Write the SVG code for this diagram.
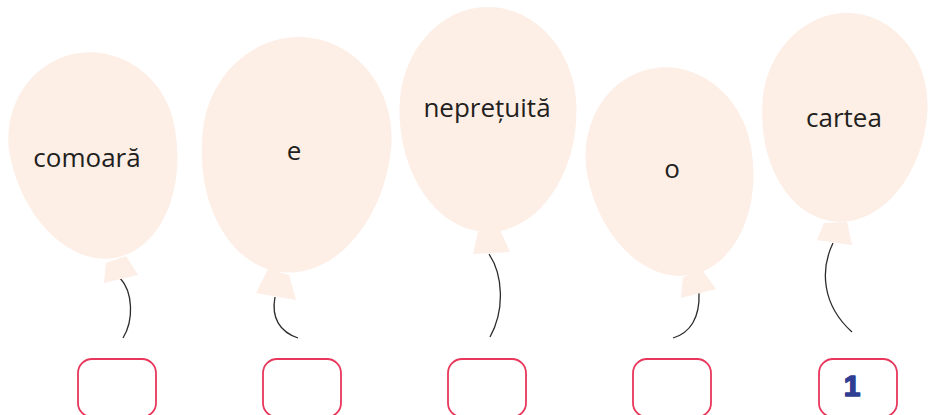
<svg xmlns="http://www.w3.org/2000/svg" width="928" height="415" viewBox="0 0 928 415">
<style>
.b{fill:#fdeee6}
.s{fill:none;stroke:#2b2b2b;stroke-width:1.3}
.t{font-family:"Open Sans","Noto Sans",sans-serif;font-size:26px;fill:#231f20;text-anchor:middle}
.box{fill:#fff;stroke:#e8375b;stroke-width:1.8}
.n{font-family:"Liberation Sans",Arial,sans-serif;font-weight:bold;font-size:30px;fill:#2f3d92;stroke:#2f3d92;stroke-width:1.5;stroke-linejoin:round;text-anchor:middle}
</style>
<rect width="928" height="415" fill="#fff"/>
<g id="connectors">
<path class="s" d="M120,278 C133,292 134,320 123,338"/>
<path class="s" d="M275,297 C271,318 280,332 298,338"/>
<path class="s" d="M489,254 C503,275 505,310 490,337"/>
<path class="s" d="M699,293 C700,318 690,333 673,338"/>
<path class="s" d="M833,243 C820,270 822,305 852,332"/>
</g>
<g id="balloon1">
<path class="b" transform="translate(92,140) rotate(-12)" d="M0,-88 C46,-88 83.5,-48 83.5,0 C83.5,66 46,120 0,120 C-46,120 -83.5,66 -83.5,0 C-83.5,-48 -46,-88 0,-88 Z"/>
<polygon class="b" points="106,263 126,256 138,275 104,283"/>
<text class="t" x="87" y="167">comoară</text>
</g>
<g id="balloon2">
<path class="b" transform="translate(297,140) rotate(7)" d="M0,-103 C52,-103 94.5,-57 94.5,0 C94.5,74 52,133 0,133 C-52,133 -94.5,74 -94.5,0 C-94.5,-57 -52,-103 0,-103 Z"/>
<polygon class="b" points="268,269 289,275 296,300 256,293"/>
<text class="t" x="294" y="160">e</text>
</g>
<g id="balloon3">
<path class="b" transform="translate(488,110)" d="M0,-103 C49,-103 88.5,-57 88.5,0 C88.5,68 48,122 0,122 C-48,122 -88.5,68 -88.5,0 C-88.5,-57 -49,-103 0,-103 Z"/>
<polygon class="b" points="478,232 500,230 510,252 473,254"/>
<text class="t" x="487" y="117">neprețuită</text>
</g>
<g id="balloon4">
<path class="b" transform="translate(669,160) rotate(-11)" d="M0,-93 C46,-93 83,-51 83,0 C83,65 45,117 0,117 C-45,117 -83,65 -83,0 C-83,-51 -46,-93 0,-93 Z"/>
<polygon class="b" points="683,277 703,271 716,289 681,298"/>
<text class="t" x="672" y="178">o</text>
</g>
<g id="balloon5">
<path class="b" transform="translate(845,107) rotate(5)" d="M0,-94 C45,-94 82.5,-52 82.5,0 C82.5,64 45,115 0,115 C-45,115 -82.5,64 -82.5,0 C-82.5,-52 -45,-94 0,-94 Z"/>
<polygon class="b" points="824,223 847,222 852,245 817,240"/>
<text class="t" x="844" y="127">cartea</text>
</g>
<g id="box1"><rect class="box" x="78" y="359" width="78" height="58" rx="14"/></g>
<g id="box2"><rect class="box" x="263" y="359" width="78" height="58" rx="14"/></g>
<g id="box3"><rect class="box" x="448" y="359" width="78" height="58" rx="14"/></g>
<g id="box4"><rect class="box" x="633" y="359" width="78" height="58" rx="14"/></g>
<g id="box5"><rect class="box" x="819" y="359" width="78" height="58" rx="14"/><text class="n" x="852" y="396">1</text></g>
</svg>
